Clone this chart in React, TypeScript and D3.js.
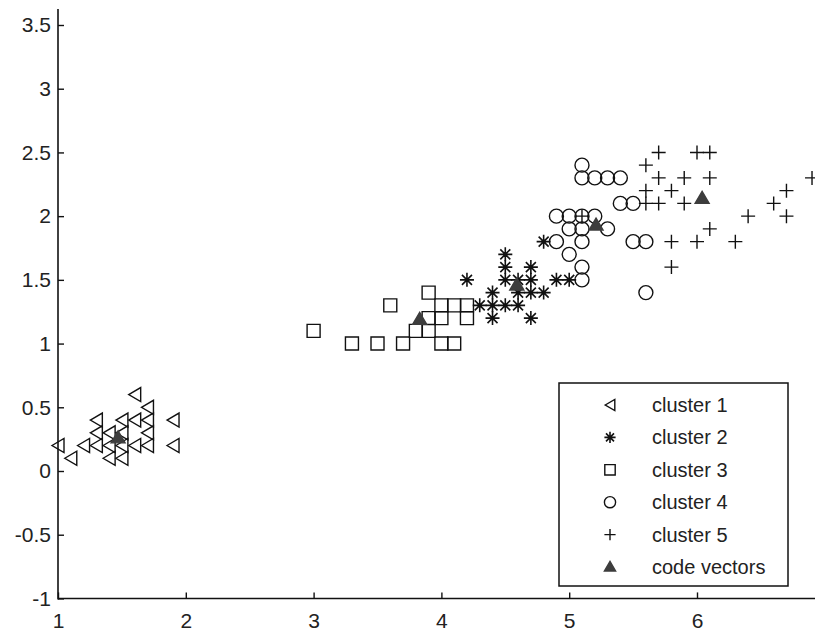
import { useEffect, useRef } from "react";
import * as d3 from "d3";

// petal length (x) / petal width (y) points
const cluster1: [number, number][] = [
  [1.0, 0.2], [1.1, 0.1], [1.2, 0.2], [1.3, 0.2], [1.3, 0.3], [1.3, 0.4],
  [1.4, 0.1], [1.4, 0.2], [1.4, 0.3], [1.5, 0.1], [1.5, 0.2], [1.5, 0.3],
  [1.5, 0.4], [1.6, 0.2], [1.6, 0.4], [1.6, 0.6], [1.7, 0.2], [1.7, 0.3],
  [1.7, 0.4], [1.7, 0.5], [1.9, 0.2], [1.9, 0.4],
];
const cluster2: [number, number][] = [
  [4.2, 1.5], [4.3, 1.3], [4.4, 1.2], [4.4, 1.3], [4.4, 1.4], [4.5, 1.3],
  [4.5, 1.5], [4.5, 1.6], [4.5, 1.7], [4.6, 1.3], [4.6, 1.4], [4.6, 1.5],
  [4.7, 1.2], [4.7, 1.4], [4.7, 1.5], [4.7, 1.6], [4.8, 1.4], [4.8, 1.8],
  [4.9, 1.5], [5.0, 1.5],
];
const cluster3: [number, number][] = [
  [3.0, 1.1], [3.3, 1.0], [3.5, 1.0], [3.6, 1.3], [3.7, 1.0], [3.8, 1.1],
  [3.9, 1.1], [3.9, 1.2], [3.9, 1.4], [4.0, 1.0], [4.0, 1.2], [4.0, 1.3],
  [4.1, 1.0], [4.1, 1.3], [4.2, 1.2], [4.2, 1.3],
];
const cluster4: [number, number][] = [
  [4.9, 1.8], [4.9, 2.0], [5.0, 1.7], [5.0, 1.9], [5.0, 2.0], [5.1, 1.5],
  [5.1, 1.6], [5.1, 1.8], [5.1, 1.9], [5.1, 2.0], [5.1, 2.3], [5.1, 2.4],
  [5.2, 2.0], [5.2, 2.3], [5.3, 1.9], [5.3, 2.3], [5.4, 2.1], [5.4, 2.3],
  [5.5, 1.8], [5.5, 2.1], [5.6, 1.4], [5.6, 1.8],
];
const cluster5: [number, number][] = [
  [5.1, 2.0], [5.6, 2.1], [5.6, 2.2], [5.6, 2.4], [5.7, 2.1], [5.7, 2.3],
  [5.7, 2.5], [5.8, 1.6], [5.8, 1.8], [5.8, 2.2], [5.9, 2.1], [5.9, 2.3],
  [6.0, 1.8], [6.0, 2.5], [6.1, 1.9], [6.1, 2.3], [6.1, 2.5], [6.3, 1.8],
  [6.4, 2.0], [6.6, 2.1], [6.7, 2.0], [6.7, 2.2], [6.9, 2.3],
];
const codeVectors: [number, number][] = [
  [1.47, 0.26], [4.59, 1.46], [3.83, 1.19], [5.21, 1.93], [6.04, 2.14],
];

const xTicks = [1, 2, 3, 4, 5, 6];
const yTicks = [-1, -0.5, 0, 0.5, 1, 1.5, 2, 2.5, 3, 3.5];
const legendLabels = ["cluster 1", "cluster 2", "cluster 3", "cluster 4", "cluster 5", "code vectors"];

const width = 815;
const height = 636;

// marker outlines, centred on 0,0
const markers: Record<string, string> = {
  left: "M-6,0L6,-7L6,7Z",
  star: "M-7,0H7M0,-7V7M-5,-5L5,5M-5,5L5,-5",
  square: "M-6.5,-6.5H6.5V6.5H-6.5Z",
  circle: "M7,0A7,7 0 1 1 -7,0A7,7 0 1 1 7,0Z",
  plus: "M-7,0H7M0,-7V7",
  up: "M0,-7L7,5H-7Z",
};
const legendKinds = ["left", "star", "square", "circle", "plus", "up"];

function Marker({ kind, x, y, k = 1 }: { kind: string; x: number; y: number; k?: number }) {
  const filled = kind === "up";
  return (
    <path
      d={markers[kind]}
      transform={`translate(${x},${y}) scale(${k})`}
      fill={filled ? "#3d3d3d" : "none"}
      stroke={filled ? "#3d3d3d" : "#111"}
      strokeWidth={(kind === "star" ? 1.6 : 1.4) / k}
    />
  );
}

export default function App() {
  const xAxisRef = useRef<SVGGElement>(null);
  const yAxisRef = useRef<SVGGElement>(null);

  const xScale = d3.scaleLinear().domain([1, 7]).range([58, 58 + 6 * 127.8]);
  const yScale = d3.scaleLinear().domain([0, 3.5]).range([471, 25]);

  useEffect(() => {
    const xAxis = d3
      .axisBottom(xScale)
      .tickValues(xTicks)
      .tickSizeInner(-6)
      .tickSizeOuter(0)
      .tickPadding(15)
      .tickFormat(d3.format("d"));
    const yAxis = d3
      .axisLeft(yScale)
      .tickValues(yTicks)
      .tickSizeInner(-6)
      .tickSizeOuter(0)
      .tickPadding(7)
      .tickFormat((d) => String(d));

    const gx = d3.select(xAxisRef.current!).call(xAxis);
    const gy = d3.select(yAxisRef.current!).call(yAxis);
    [gx, gy].forEach((g) => {
      g.select(".domain").remove();
      g.selectAll("line").attr("stroke", "#111").attr("stroke-width", 1.4);
      g.selectAll("text")
        .attr("fill", "#222")
        .style("font-family", "'Liberation Sans', Arial, sans-serif")
        .style("font-size", "21px");
    });
  }, []);

  const groups: [string, [number, number][]][] = [
    ["left", cluster1],
    ["star", cluster2],
    ["square", cluster3],
    ["circle", cluster4],
    ["plus", cluster5],
  ];

  const legend = { x: 559, y: 383, w: 229, h: 203 };

  return (
    <svg
      width={width}
      height={height}
      style={{ position: "absolute", left: 0, top: 0, background: "#fff" }}
    >
      <rect width={width} height={height} fill="#fff" />
      {groups.map(([kind, pts]) =>
        pts.map((p, i) => (
          <Marker key={kind + i} kind={kind} x={xScale(p[0])} y={yScale(p[1])} />
        ))
      )}
      {codeVectors.map((p, i) => (
        <Marker key={"cv" + i} kind="up" x={xScale(p[0])} y={yScale(p[1])} />
      ))}

      <line x1={58} y1={9} x2={58} y2={yScale(-1) + 1} stroke="#111" strokeWidth={1.6} />
      <line x1={58} y1={yScale(-1)} x2={width} y2={yScale(-1)} stroke="#111" strokeWidth={1.6} />
      <g ref={xAxisRef} transform={`translate(0,${yScale(-1)})`} />
      <g ref={yAxisRef} transform="translate(58,0)" />

      <rect
        x={legend.x}
        y={legend.y}
        width={legend.w}
        height={legend.h}
        fill="#fff"
        stroke="#111"
        strokeWidth={1.5}
      />
      {legendLabels.map((label, i) => {
        const cy = 405 + i * 32.4;
        return (
          <g key={label}>
            <Marker kind={legendKinds[i]} x={610} y={cy} k={0.8} />
            <text
              x={652}
              y={cy + 7}
              fill="#222"
              style={{ fontFamily: "'Liberation Sans', Arial, sans-serif", fontSize: 20 }}
            >
              {label}
            </text>
          </g>
        );
      })}
    </svg>
  );
}
